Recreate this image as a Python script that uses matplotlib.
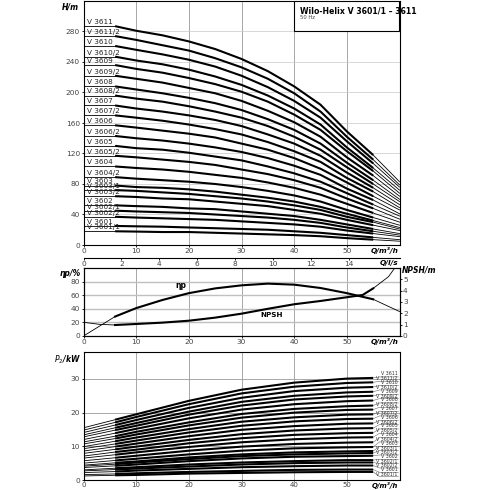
import numpy as np
import matplotlib
matplotlib.use("Agg")
import matplotlib.pyplot as plt
from matplotlib.patches import Rectangle

# pump variants, top to bottom
variants = ["V 3611", "V 3611/2", "V 3610", "V 3610/2", "V 3609", "V 3609/2",
            "V 3608", "V 3608/2", "V 3607", "V 3607/2", "V 3606", "V 3606/2",
            "V 3605", "V 3605/2", "V 3604", "V 3604/2", "V 3603", "V 3603/1",
            "V 3603/2", "V 3602", "V 3602/1", "V 3602/2", "V 3601", "V 3601/1"]

# H-Q curves, read at these flows (m3/h); last column is the thin tail
q_head = [6, 10, 15, 20, 25, 30, 35, 40, 45, 50, 55, 60]
head = [
    [287, 281, 275, 267, 257, 244, 228, 208, 184, 149, 118, 83],
    [274, 269, 262, 255, 245, 233, 218, 199, 175, 142, 112, 79],
    [261, 256, 250, 243, 234, 222, 207, 189, 167, 136, 107, 76],
    [247, 242, 237, 230, 221, 210, 196, 179, 158, 128, 101, 72],
    [236, 231, 226, 219, 211, 201, 188, 171, 151, 123, 97, 68],
    [222, 218, 213, 206, 199, 189, 176, 161, 142, 115, 91, 64],
    [208, 204, 199, 193, 186, 177, 165, 151, 133, 108, 85, 60],
    [196, 192, 188, 182, 175, 167, 156, 142, 125, 102, 80, 57],
    [183, 179, 175, 170, 164, 156, 145, 133, 117, 95, 75, 53],
    [170, 167, 163, 158, 152, 145, 135, 123, 109, 88, 70, 49],
    [157, 154, 150, 146, 141, 133, 125, 114, 100, 82, 64, 46],
    [143, 140, 137, 133, 128, 122, 114, 104, 92, 74, 59, 41],
    [130, 127, 125, 121, 116, 111, 103, 94, 83, 68, 53, 38],
    [117, 115, 112, 109, 105, 99, 93, 85, 75, 61, 48, 34],
    [103, 101, 99, 96, 92, 88, 82, 75, 66, 54, 42, 30],
    [89, 87, 85, 83, 80, 76, 71, 65, 57, 46, 36, 26],
    [78, 76, 75, 73, 70, 66, 62, 57, 50, 41, 32, 23],
    [72, 71, 69, 67, 64, 61, 57, 52, 46, 37, 30, 21],
    [64, 63, 61, 60, 57, 54, 51, 46, 41, 33, 26, 19],
    [52, 51, 50, 48, 47, 44, 41, 38, 33, 27, 21, 15],
    [45, 44, 43, 42, 40, 38, 36, 33, 29, 23, 18, 13],
    [37, 36, 35, 34, 33, 31, 29, 27, 24, 19, 15, 11],
    [25, 24.5, 24, 23, 22, 21, 20, 18, 16, 13, 10, 7],
    [18, 17.6, 17, 17, 16, 15, 14, 13, 11.5, 9, 7, 5],
]

# efficiency (%) and NPSH (m)
q_eta = [0, 6, 10, 15, 20, 25, 30, 35, 40, 45, 50, 55, 60]
eta = [0, 28.6, 41, 53, 63, 70, 74.5, 77, 75.5, 70.6, 63, 54, 36]
q_npsh = [0, 3, 6, 10, 15, 20, 25, 30, 35, 40, 45, 50, 53, 55, 57.9, 59.1, 60]
npsh = [1.21, 1.03, 0.97, 1.06, 1.18, 1.35, 1.62, 1.97, 2.4, 2.8, 3.09, 3.42,
        3.62, 4.2, 5.23, 6.0, 6.6]

# power P2 (kW)
q_pow = [0, 6, 10, 20, 30, 40, 50, 55]
power = [
    [15.5, 17.9, 19.5, 23.5, 26.8, 28.9, 30.1, 30.3],
    [14.8, 17.1, 18.7, 22.5, 25.7, 27.7, 28.8, 29.0],
    [14.1, 16.3, 17.8, 21.4, 24.4, 26.4, 27.4, 27.6],
    [13.4, 15.5, 16.9, 20.3, 23.2, 25.0, 26.0, 26.2],
    [12.8, 14.8, 16.1, 19.4, 22.1, 23.9, 24.8, 25.0],
    [12.0, 13.9, 15.2, 18.3, 20.9, 22.5, 23.4, 23.6],
    [11.3, 13.0, 14.3, 17.1, 19.6, 21.1, 21.9, 22.1],
    [10.7, 12.3, 13.5, 16.2, 18.5, 20.0, 20.8, 20.9],
    [9.9, 11.5, 12.6, 15.1, 17.3, 18.6, 19.4, 19.5],
    [9.3, 10.7, 11.7, 14.1, 16.1, 17.4, 18.1, 18.2],
    [8.6, 9.9, 10.8, 13.0, 14.9, 16.0, 16.7, 16.8],
    [7.9, 9.1, 9.9, 11.9, 13.6, 14.7, 15.3, 15.4],
    [7.1, 8.3, 9.0, 10.9, 12.4, 13.4, 13.9, 14.0],
    [6.5, 7.5, 8.2, 9.8, 11.2, 12.1, 12.6, 12.7],
    [5.7, 6.6, 7.2, 8.7, 9.9, 10.7, 11.1, 11.2],
    [5.0, 5.8, 6.3, 7.6, 8.7, 9.4, 9.7, 9.8],
    [4.4, 5.1, 5.5, 6.7, 7.6, 8.2, 8.5, 8.6],
    [4.1, 4.7, 5.2, 6.2, 7.1, 7.6, 7.9, 8.0],
    [3.7, 4.2, 4.6, 5.6, 6.4, 6.9, 7.1, 7.2],
    [3.0, 3.5, 3.8, 4.6, 5.2, 5.6, 5.9, 5.9],
    [2.7, 3.1, 3.4, 4.0, 4.6, 5.0, 5.2, 5.2],
    [2.2, 2.5, 2.8, 3.3, 3.8, 4.1, 4.3, 4.3],
    [1.6, 1.8, 2.0, 2.4, 2.7, 3.0, 3.1, 3.1],
    [1.2, 1.4, 1.5, 1.9, 2.1, 2.3, 2.4, 2.4],
]

title = "Wilo-Helix V 3601/1 – 3611"
subtitle = "50 Hz"

TICK = dict(labelsize=5.3, labelcolor="#444444", length=1.5, width=0.6, pad=1.0)
GRID = "#9a9a9a"
THICK = 1.5
THIN = 0.6


def rect(l, t, r, b, W=490, H=490):
    return [l / W, 1 - b / H, (r - l) / W, (b - t) / H]


def split(q, v, lo, hi):
    q = np.asarray(q, float)
    v = np.asarray(v, float)
    m = (q >= lo) & (q <= hi)
    return q[m], v[m]


def style(ax, qsize=5.3):
    for s in ax.spines.values():
        s.set_linewidth(0.8)
    ax.tick_params(**TICK)
    ax.set_xlim(0, 60)
    ax.set_xticks([0, 10, 20, 30, 40, 50])
    for x in [10, 20, 30, 40, 50]:
        ax.axvline(x, color=GRID, lw=0.6, zorder=0)
    ax.annotate("Q/m³/h", xy=(1, 0), xycoords="axes fraction", xytext=(-1, -1.5),
                textcoords="offset points", ha="right", va="top", fontsize=qsize,
                fontweight="bold", fontstyle="italic")


fig = plt.figure(figsize=(4.9, 4.9), dpi=100)

# ---- H-Q panel
ax_h = fig.add_axes(rect(83.5, 1, 399.5, 245))
style(ax_h)
ax_h.set_ylim(0, 320)
ax_h.set_yticks(range(0, 281, 40))
for y in range(40, 281, 40):
    ax_h.axhline(y, color="#c8c8c8", lw=0.5, zorder=0)
for name, hv in zip(variants, head):
    qa, ha = split(q_head, hv, 6, 55)
    qb, hb = split(q_head, hv, 55, 60)
    ax_h.plot(qa, ha, color="black", lw=THICK, solid_capstyle="butt")
    ax_h.plot(qb, hb, color="black", lw=THIN)
    ax_h.plot([0, 6], [hv[0], hv[0]], color="black", lw=THIN)
    ax_h.text(0.6, hv[0] + 1.5, name, fontsize=5.2, color="#222222", va="bottom")
ax_h.add_patch(Rectangle((40, 280), 20, 40, facecolor="white", edgecolor="black",
                         lw=0.8, zorder=5))
ax_h.text(41.2, 313, title, fontsize=5.6, fontweight="bold", va="top", zorder=6)
ax_h.text(41.2, 301, subtitle, fontsize=3.8, color="#444444", va="top", zorder=6)
ax_h.annotate("H/m", xy=(0, 1), xycoords="axes fraction", xytext=(-3, -1),
              textcoords="offset points", ha="right", va="top", fontsize=5.5,
              fontweight="bold", fontstyle="italic")

# ---- Q in l/s strip
ax_l = fig.add_axes(rect(83.5, 257, 399.5, 258))
ax_l.set_xlim(0, 60 / 3.6)
ax_l.set_xticks(range(0, 15, 2))
ax_l.set_yticks([])
for s in ["top", "left", "right"]:
    ax_l.spines[s].set_visible(False)
ax_l.spines["bottom"].set_linewidth(0.8)
ax_l.tick_params(**TICK)
ax_l.patch.set_alpha(0)
ax_l.annotate("Q/l/s", xy=(1, 0), xycoords="axes fraction", xytext=(-1, -1.5),
              textcoords="offset points", ha="right", va="top", fontsize=5.3,
              fontweight="bold", fontstyle="italic")

# ---- efficiency / NPSH panel
ax_e = fig.add_axes(rect(83.5, 268, 399.5, 336))
style(ax_e)
ax_e.set_ylim(0, 100)
ax_e.set_yticks(range(0, 81, 20))
for y in range(20, 81, 20):
    ax_e.axhline(y, color="#c0c0c0", lw=1.0, zorder=0)
qa, ea = split(q_eta, eta, 6, 55)
ax_e.plot(qa, ea, color="black", lw=THICK)
ax_e.plot(*split(q_eta, eta, 0, 6), color="black", lw=THIN)
ax_e.plot(*split(q_eta, eta, 55, 60), color="black", lw=THIN)
ax_e.text(17.5, 71, "ηp", fontsize=5.5, fontweight="bold")
ax_e.annotate("ηp/%", xy=(0, 1), xycoords="axes fraction", xytext=(-2, -1),
              textcoords="offset points", ha="right", va="top", fontsize=5.5,
              fontweight="bold", fontstyle="italic")

ax_n = ax_e.twinx()
ax_n.set_xlim(0, 60)
ax_n.set_ylim(0, 6)
ax_n.set_yticks(range(0, 6))
ax_n.tick_params(**TICK)
for s in ax_n.spines.values():
    s.set_linewidth(0.8)
ax_n.plot(*split(q_npsh, npsh, 6, 55), color="black", lw=THICK)
ax_n.plot(*split(q_npsh, npsh, 0, 6), color="black", lw=THIN)
ax_n.plot(*split(q_npsh, npsh, 55, 60), color="black", lw=THIN)
ax_n.text(33.5, 1.7, "NPSH", fontsize=5.2, fontweight="bold")
ax_n.annotate("NPSH/m", xy=(1, 1), xycoords="axes fraction", xytext=(2, 2),
              textcoords="offset points", ha="left", va="top", fontsize=5.5,
              fontweight="bold", fontstyle="italic")

# ---- power panel
ax_p = fig.add_axes(rect(83.5, 352, 399.5, 480))
style(ax_p, qsize=5)
ax_p.tick_params(axis="x", length=1, pad=0.5, labelsize=5)
ax_p.set_ylim(0, 38)
ax_p.set_yticks([0, 10, 20, 30])
for y in [10, 20, 30]:
    ax_p.axhline(y, color=GRID, lw=0.6, zorder=0)
label_y = np.linspace(30.6, 1.0, len(variants))
for name, pv, ly in zip(variants, power, label_y):
    ax_p.plot(*split(q_pow, pv, 6, 55), color="black", lw=THICK, solid_capstyle="butt")
    ax_p.plot(*split(q_pow, pv, 0, 6), color="black", lw=THIN)
    ax_p.plot([55, 56.2, 59.8], [pv[-1], ly, ly], color="#555555", lw=0.35)
    ax_p.text(59.6, ly + 0.15, name, fontsize=3.4, ha="right", va="bottom",
              color="#333333")
ax_p.annotate("$P_2$/kW", xy=(0, 1), xycoords="axes fraction", xytext=(-2, -1),
              textcoords="offset points", ha="right", va="top", fontsize=5.5,
              fontweight="bold", fontstyle="italic")

fig.savefig("out.png", dpi=100)
